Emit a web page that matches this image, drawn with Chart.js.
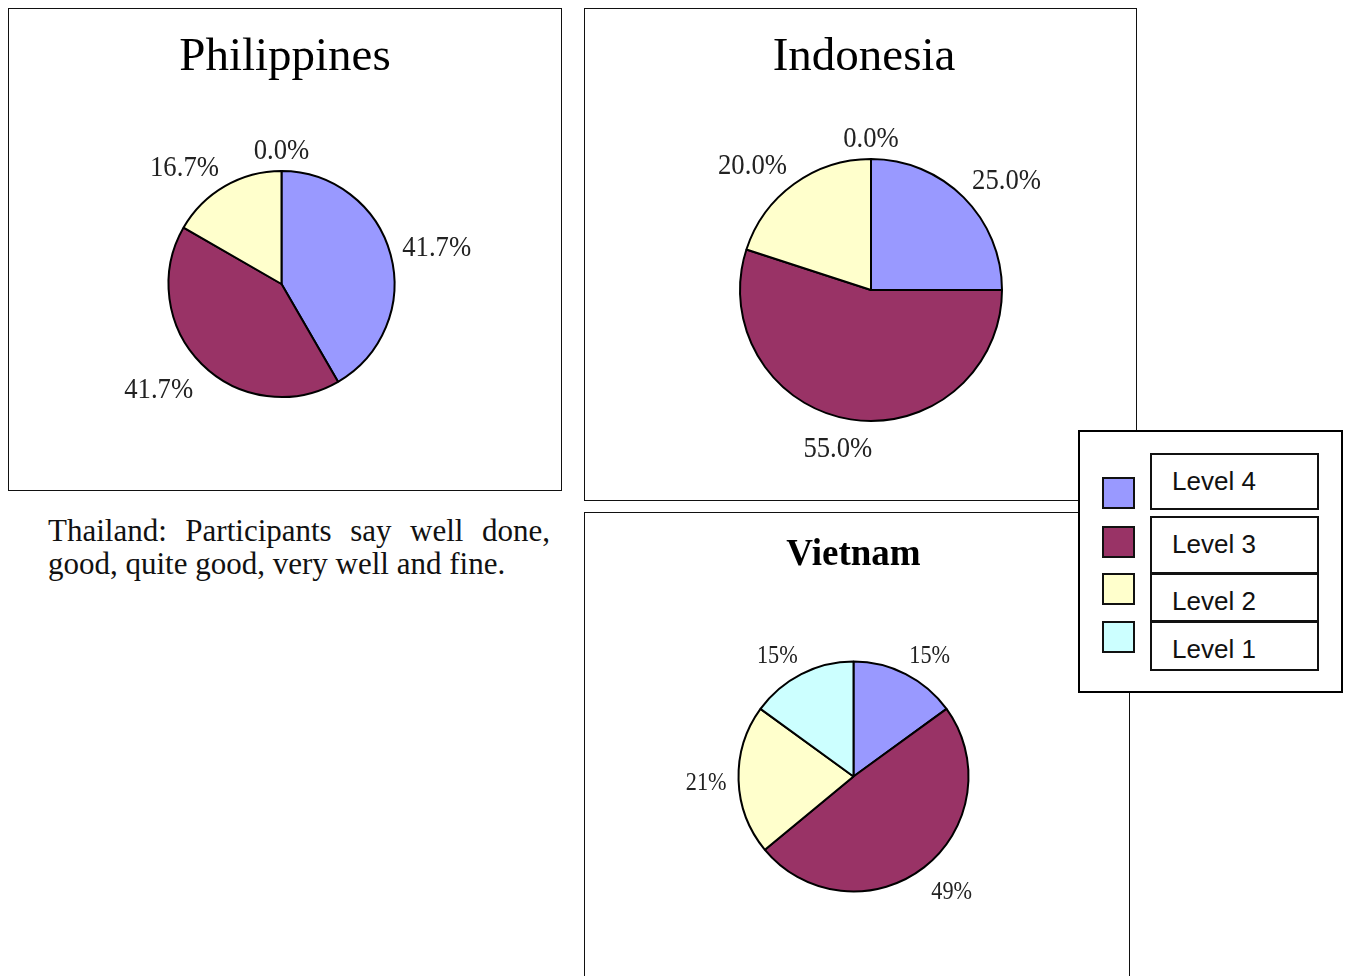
<!DOCTYPE html>
<html>
<head>
<meta charset="utf-8">
<script src="https://cdn.jsdelivr.net/npm/chart.js@4/dist/chart.umd.min.js"></script>
<style>
  html, body { margin:0; padding:0; background:#fff; }
  body { width:1349px; height:976px; overflow:hidden; position:relative; }
  .box { position:absolute; border:1px solid #111; box-sizing:border-box; background:#fff; }
  canvas { position:absolute; }
  #note { position:absolute; left:48px; top:514px; width:502px; font-family:"Liberation Serif", serif; font-size:31px; line-height:33px; text-align:justify; color:#111; margin:0; }
  #legend { position:absolute; left:1078px; top:430px; width:265px; height:263px; border:2px solid #000; box-sizing:border-box; background:#fff; }
  .sw { position:absolute; left:22px; width:33px; height:32px; border:2px solid #111; box-sizing:border-box; }
  .lb { position:absolute; left:70px; width:169px; border:2px solid #111; box-sizing:border-box; font-family:"Liberation Sans", Arial, sans-serif; font-size:26px; line-height:26px; padding-top:13px; color:#111; padding-left:20px; }
</style>
</head>
<body>
<div class="box" style="left:8px;top:8px;width:554px;height:483px;"></div>
<div class="box" style="left:584px;top:8px;width:553px;height:493px;"></div>
<div class="box" style="left:584px;top:512px;width:546px;height:520px;"></div>
<canvas id="cPhil" style="left:9px;top:9px;" width="551" height="480"></canvas>
<canvas id="cIndo" style="left:585px;top:9px;" width="550" height="490"></canvas>
<canvas id="cViet" style="left:585px;top:513px;" width="543" height="463"></canvas>
<p id="note">Thailand: Participants say well done, good, quite good, very well and fine.</p>
<div id="legend"></div>
<script>
// ---- data ----
const categories = ['Level 4', 'Level 3', 'Level 2', 'Level 1'];
const sliceColors = ['#9999FF', '#993366', '#FFFFCC', '#CCFFFF'];
const philippinesValues = [41.7, 41.7, 16.7, 0.0];
const indonesiaValues = [25.0, 55.0, 20.0, 0.0];
const vietnamValues = [15, 49, 21, 15];
const chartTitles = ['Philippines', 'Indonesia', 'Vietnam'];

// ---- plugin: slice labels + title ----
const clamp1 = v => Math.max(-1, Math.min(1, v));
const labelPlugin = {
  id: 'sliceLabels',
  afterDatasetsDraw(chart, args, opts) {
    const ctx = chart.ctx;
    const meta = chart.getDatasetMeta(0);
    const ds = chart.data.datasets[0];
    ctx.save();
    ctx.fillStyle = '#222';
    ctx.textAlign = 'center';
    ctx.textBaseline = 'alphabetic';
    ctx.font = opts.font;
    meta.data.forEach((arc, i) => {
      const p = arc.getProps(['x', 'y', 'startAngle', 'endAngle', 'outerRadius'], true);
      const mid = (p.startAngle + p.endAngle) / 2;
      const text = opts.format(ds.data[i]);
      const w = ctx.measureText(text).width * opts.scaleX;
      const h = opts.height;
      const c = Math.cos(mid), s = Math.sin(mid);
      const d = p.outerRadius + opts.gap;
      const cx = p.x + c * d + clamp1(2 * c) * w / 2;
      const cy = p.y + s * d + clamp1(2 * s) * h * (s > 0 ? 0.8 : 0.5);
      ctx.save();
      ctx.translate(cx, cy + h / 2);
      ctx.scale(opts.scaleX, 1);
      ctx.fillText(text, 0, 0);
      ctx.restore();
    });
    ctx.fillStyle = '#000';
    ctx.font = opts.titleFont;
    ctx.fillText(opts.title, opts.titleX, opts.titleY);
    ctx.restore();
  }
};

function makePie(id, values, cfg) {
  const canvas = document.getElementById(id);
  const W = canvas.width, H = canvas.height;
  const padding = {
    left: Math.max(0, 2 * cfg.cx - W), right: Math.max(0, W - 2 * cfg.cx),
    top: Math.max(0, 2 * cfg.cy - H), bottom: Math.max(0, H - 2 * cfg.cy)
  };
  return new Chart(canvas, {
    type: 'pie',
    data: {
      labels: categories,
      datasets: [{
        data: values,
        backgroundColor: sliceColors,
        borderColor: '#000',
        borderWidth: 2,
        radius: cfg.r
      }]
    },
    options: {
      responsive: false,
      animation: false,
      events: [],
      layout: { padding },
      plugins: {
        legend: { display: false },
        title: { display: false },
        tooltip: { enabled: false },
        sliceLabels: {
          font: cfg.labelFont, scaleX: cfg.scaleX, height: cfg.labelH, gap: cfg.gap,
          format: cfg.format, title: cfg.title, titleFont: cfg.titleFont,
          titleX: cfg.titleX, titleY: cfg.titleY
        }
      }
    },
    plugins: [labelPlugin]
  });
}

makePie('cPhil', philippinesValues, {
  cx: 272.5, cy: 275, r: 113, gap: 12,
  labelFont: '29px "Liberation Serif", serif', scaleX: 0.92, labelH: 19.6,
  format: v => v.toFixed(1) + '%',
  title: chartTitles[0], titleFont: '47px "Liberation Serif", serif', titleX: 276, titleY: 61
});
makePie('cIndo', indonesiaValues, {
  cx: 286, cy: 281, r: 131, gap: 12,
  labelFont: '29px "Liberation Serif", serif', scaleX: 0.92, labelH: 19.6,
  format: v => v.toFixed(1) + '%',
  title: chartTitles[1], titleFont: '47px "Liberation Serif", serif', titleX: 279, titleY: 61
});
makePie('cViet', vietnamValues, {
  cx: 268.5, cy: 263.5, r: 115, gap: 12,
  labelFont: '25px "Liberation Serif", serif', scaleX: 0.89, labelH: 17,
  format: v => Math.round(v) + '%',
  title: chartTitles[2], titleFont: 'bold 37px "Liberation Serif", serif', titleX: 268.5, titleY: 52
});

// ---- legend (HTML) ----
const legend = document.getElementById('legend');
const swatchTops = [45, 94, 141, 189];
const boxTops = [21, 84, 141, 189];
const boxHeights = [57, 58, 49, 50];
categories.forEach((c, i) => {
  const sw = document.createElement('div');
  sw.className = 'sw';
  sw.style.top = swatchTops[i] + 'px';
  sw.style.background = sliceColors[i];
  legend.appendChild(sw);
  const lb = document.createElement('div');
  lb.className = 'lb';
  lb.style.top = boxTops[i] + 'px';
  lb.style.height = boxHeights[i] + 'px';
  lb.textContent = c;
  legend.appendChild(lb);
});
</script>
</body>
</html>
